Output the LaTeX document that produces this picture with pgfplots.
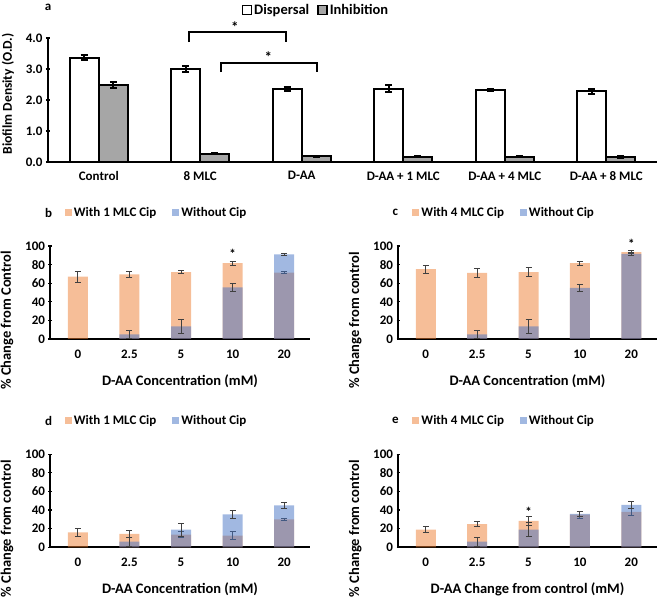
\documentclass[border=0pt]{standalone}
\usepackage{fontspec}
\setmainfont{Carlito}
\usepackage{pgfplots}
\pgfplotsset{compat=1.18}
\definecolor{xlor}{RGB}{237,125,49}
\definecolor{xlbl}{RGB}{68,114,196}
\definecolor{errc}{RGB}{64,64,64}
\definecolor{grbar}{RGB}{166,166,166}
\newcommand{\fs}[1]{\fontsize{#1}{#1}\selectfont\bfseries}
\pgfplotsset{
 panel/.style={
   scale only axis, width=260pt, height=93pt,
   xmin=-0.54, xmax=4.5, ymin=0, ymax=100,
   axis x line=bottom, axis y line=left,
   axis line style={-, line width=1.8pt, black},
   xtick={0,...,4}, xticklabels={0,2.5,5,10,20},
   ytick={0,20,...,100}, yticklabels={0,20,40,60,80,100},
   major tick length=3pt,
   xtick style={draw=none},
   ytick style={line width=1.2pt, black},
   xticklabel style={font=\fs{13}, yshift=-6pt},
   yticklabel style={font=\fs{13}},
   xlabel style={font=\fs{14.5}, yshift=-9pt},
   every axis y label/.style={at={(axis description cs:-0.165,0.2)}, rotate=90, anchor=center, font=\fs{14.5}},
   clip=false,
   legend style={draw=none, fill=none, legend columns=2, font=\fs{13},
     at={(0.41,1.36)}, anchor=center,
     /tikz/every even column/.append style={column sep=14pt}},
   legend image code/.code={\fill[##1] (0pt,-3.5pt) rectangle (7pt,3.5pt);},
 },
 orb/.style={ybar, bar width=20pt, bar shift=0pt, draw=none, fill=xlor, fill opacity=0.5,
   error bars/.cd, y dir=both, y explicit,
   error bar style={errc, line width=1pt, opacity=1},
   error mark options={rotate=90, mark size=3pt, line width=1pt, errc}},
 blb/.style={ybar, bar width=20pt, bar shift=0pt, draw=none, fill=xlbl, fill opacity=0.5,
   error bars/.cd, y dir=both, y explicit,
   error bar style={errc, line width=1pt, opacity=1},
   error mark options={rotate=90, mark size=3pt, line width=1pt, errc}},
 boxlegend/.style={legend image code/.code={\draw[##1, line width=1.5pt] (0pt,-4.5pt) rectangle (9pt,4.5pt);}},
}
\begin{document}
\begin{tikzpicture}
\useasboundingbox (0,0) rectangle (658pt,599pt);

% ---------------- panel a ----------------
\begin{axis}[
  at={(48pt,437pt)}, anchor=south west,
  scale only axis, width=609pt, height=124pt,
  xmin=-0.5, xmax=5.5, ymin=0, ymax=4,
  axis x line=bottom, axis y line=left,
  axis line style={-, line width=2pt, black},
  xtick={0,...,5},
  xticklabels={Control, 8 MLC, D-AA, D-AA + 1 MLC, D-AA + 4 MLC, D-AA + 8 MLC},
  ytick={0,1,2,3,4}, yticklabels={0.0,1.0,2.0,3.0,4.0},
  major tick length=4pt,
  xtick style={draw=none},
  ytick style={line width=1.5pt, black},
  xticklabel style={font=\fs{13}, yshift=-4pt},
  yticklabel style={font=\fs{13}},
  ylabel={Biofilm Density (O.D.)},
  every axis y label/.style={at={(axis description cs:-0.066,0.55)}, rotate=90, anchor=center, font=\fs{13.5}},
  clip=false,
  legend style={draw=none, fill=none, legend columns=2, font=\fs{14.5},
    at={(0.44,1.225)}, anchor=center,
    /tikz/every even column/.append style={column sep=6pt}},
  boxlegend,
]
\addplot[ybar, bar width=29pt, bar shift=0pt, fill=white, draw=black, line width=2pt,
  error bars/.cd, y dir=both, y explicit, error bar style={black, line width=2pt},
  error mark options={rotate=90, mark size=3.5pt, line width=2pt, black}]
  coordinates {(-0.143,3.37) +- (0,0.08) (0.857,3.00) +- (0,0.10) (1.857,2.35) +- (0,0.07)
               (2.857,2.37) +- (0,0.12) (3.857,2.32) +- (0,0.03) (4.857,2.28) +- (0,0.09)};
\addplot[ybar, bar width=29pt, bar shift=0pt, fill=grbar, draw=black, line width=2pt,
  error bars/.cd, y dir=both, y explicit, error bar style={black, line width=2pt},
  error mark options={rotate=90, mark size=3.5pt, line width=2pt, black}]
  coordinates {(0.143,2.48) +- (0,0.10) (1.143,0.27) +- (0,0.02) (2.143,0.18) +- (0,0.02)
               (3.143,0.17) +- (0,0.02) (4.143,0.17) +- (0,0.02) (5.143,0.16) +- (0,0.02)};
\legend{Dispersal, Inhibition}
\draw[line width=2pt] (axis cs:0.89,3.87) -- (axis cs:0.89,4.19) -- (axis cs:1.84,4.19) -- (axis cs:1.84,3.87);
\node[font=\fs{15}] at (axis cs:1.34,4.36) {*};
\draw[line width=2pt] (axis cs:1.20,2.90) -- (axis cs:1.20,3.19) -- (axis cs:2.15,3.19) -- (axis cs:2.15,2.90);
\node[font=\fs{15}] at (axis cs:1.67,3.38) {*};
\node[font=\fs{13}] at (axis description cs:0,1.25) {a};
\end{axis}

% ---------------- panel b ----------------
\begin{axis}[panel, at={(50pt,260pt)}, anchor=south west,
  xlabel={D-AA Concentration (mM)}, ylabel={\% Change from Control}]
\addplot[orb] coordinates {(0,67) +- (0,6) (1,69.5) +- (0,3.5) (2,72) +- (0,2) (3,81.5) +- (0,2) (4,71.5) +- (0,1)};
\addplot[blb] coordinates {(1,5) +- (0,4.5) (2,13.5) +- (0,7.5) (3,55.5) +- (0,4) (4,91) +- (0,1.2)};
\legend{With 1 MLC Cip, Without Cip}
\node[font=\fs{13}] at (axis cs:3,91.5) {*};
\node[font=\fs{13}] at (axis description cs:-0.005,1.36) {b};
\end{axis}

% ---------------- panel c ----------------
\begin{axis}[panel, width=259pt, at={(398pt,260pt)}, anchor=south west,
  xlabel={D-AA Concentration (mM)}, ylabel={\% Change from control}]
\addplot[orb] coordinates {(0,75) +- (0,4.5) (1,71) +- (0,4.5) (2,72) +- (0,5) (3,81.5) +- (0,2) (4,93.5) +- (0,1.5)};
\addplot[blb] coordinates {(1,5) +- (0,4.5) (2,13.5) +- (0,7.5) (3,55) +- (0,3.5) (4,91.5) +- (0,1.5)};
\legend{With 4 MLC Cip, Without Cip}
\node[font=\fs{13}] at (axis cs:4,102.5) {*};
\node[font=\fs{13}] at (axis description cs:-0.01,1.36) {c};
\end{axis}

% ---------------- panel d ----------------
\begin{axis}[panel, at={(50pt,51.7pt)}, anchor=south west,
  xlabel={D-AA Concentration (mM)}, ylabel={\% Change from control}]
\addplot[orb] coordinates {(0,16) +- (0,4) (1,14.5) +- (0,3.5) (2,13.5) +- (0,3) (3,12.5) +- (0,4) (4,30) +- (0,1.5)};
\addplot[blb] coordinates {(1,6) +- (0,5) (2,19) +- (0,7) (3,35.5) +- (0,4.5) (4,45) +- (0,3.5)};
\legend{With 1 MLC Cip, Without Cip}
\node[font=\fs{13}] at (axis description cs:-0.005,1.36) {d};
\end{axis}

% ---------------- panel e ----------------
\begin{axis}[panel, width=259pt, at={(398pt,51.7pt)}, anchor=south west,
  xlabel={D-AA Change from control (mM)}, ylabel={\% Change from control}]
\addplot[orb] coordinates {(0,19) +- (0,3.5) (1,25) +- (0,3) (2,28.5) +- (0,5) (3,35) +- (0,3.5) (4,38) +- (0,3.5)};
\addplot[blb] coordinates {(1,6) +- (0,5) (2,19) +- (0,7.5) (3,36) +- (0,3) (4,45.5) +- (0,3.5)};
\legend{With 4 MLC Cip, Without Cip}
\node[font=\fs{13}] at (axis cs:2,38.5) {*};
\node[font=\fs{13}] at (axis description cs:-0.01,1.36) {e};
\end{axis}
\end{tikzpicture}
\end{document}
